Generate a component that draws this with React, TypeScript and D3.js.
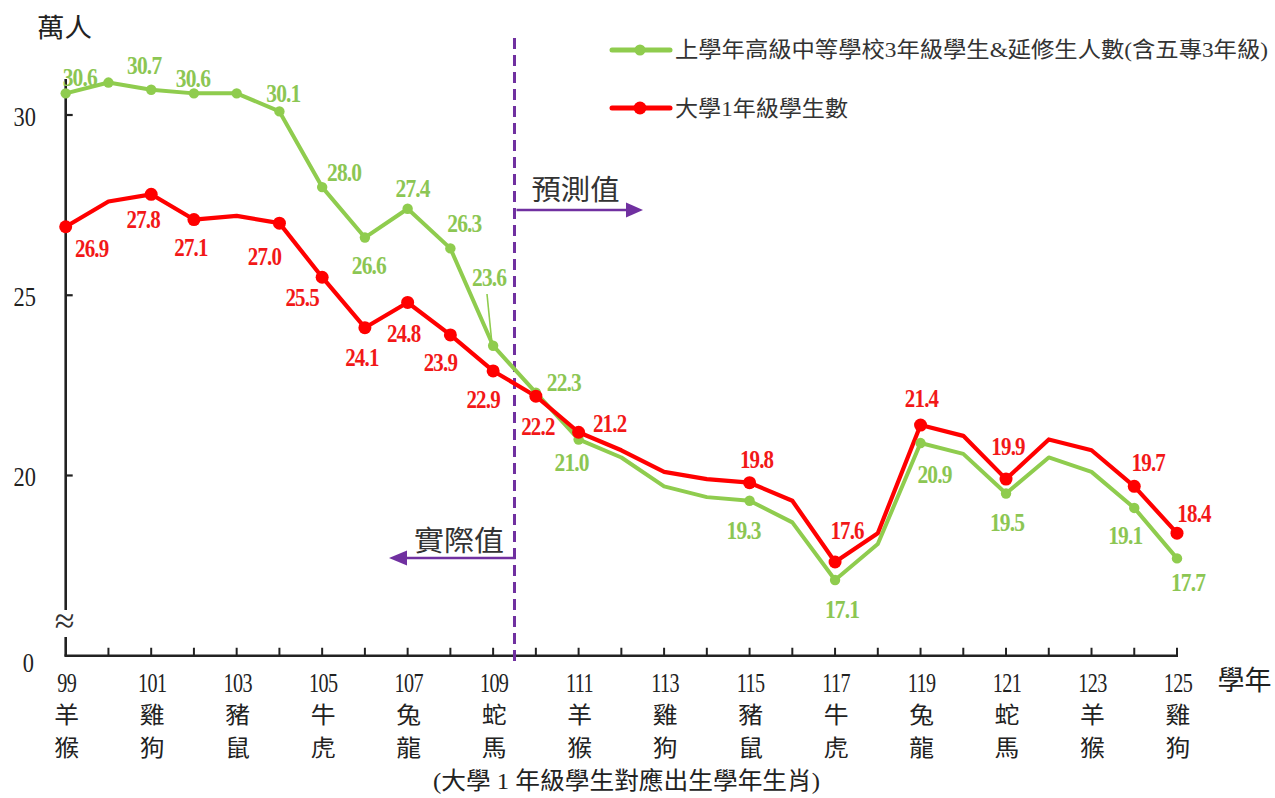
import React from "react";
import * as d3 from "d3";

// ---------- data ----------
const years = [99, 100, 101, 102, 103, 104, 105, 106, 107, 108, 109, 110, 111, 112, 113, 114, 115, 116, 117, 118, 119, 120, 121, 122, 123, 124, 125];

// 上學年高級中等學校3年級學生&延修生人數(含五專3年級) (萬人)
const highSchoolSeniors = [30.6, 30.9, 30.7, 30.6, 30.6, 30.1, 28.0, 26.6, 27.4, 26.3, 23.6, 22.3, 21.0, 20.5, 19.7, 19.4, 19.3, 18.7, 17.1, 18.1, 20.9, 20.6, 19.5, 20.5, 20.1, 19.1, 17.7];

// 大學1年級學生數 (萬人)
const freshmen = [26.9, 27.6, 27.8, 27.1, 27.2, 27.0, 25.5, 24.1, 24.8, 23.9, 22.9, 22.2, 21.2, 20.7, 20.1, 19.9, 19.8, 19.3, 17.6, 18.4, 21.4, 21.1, 19.9, 21.0, 20.7, 19.7, 18.4];

const tickYears = [99, 101, 103, 105, 107, 109, 111, 113, 115, 117, 119, 121, 123, 125];
const zodiacTop = ["羊", "雞", "豬", "牛", "兔", "蛇", "羊", "雞", "豬", "牛", "兔", "蛇", "羊", "雞"];
const zodiacBottom = ["猴", "狗", "鼠", "虎", "龍", "馬", "猴", "狗", "鼠", "虎", "龍", "馬", "猴", "狗"];
const yTicks = [20, 25, 30];

const greenMarkedYears = [99, 100, 101, 102, 103, 104, 105, 106, 107, 108, 109, 110, 111, 115, 117, 119, 121, 124, 125];
const redMarkedYears = [99, 101, 102, 104, 105, 106, 107, 108, 109, 110, 111, 115, 117, 119, 121, 124, 125];

const legendGreen = "上學年高級中等學校3年級學生&延修生人數(含五專3年級)";
const legendRed = "大學1年級學生數";
const forecastYear = 109.5;

// ---------- label placement (layout only: offset of label centre from its point) ----------
const greenLabelPlacement: [number, number, number][] = [
  [99, 14, -16], [101, -7, -24], [102, -1, -15], [104, 4, -18], [105, 22, -15],
  [106, 4, 28], [107, 5, -20], [108, 14, -25], [109, -4, -68], [110, 28, -10],
  [111, -7, 23], [115, -6, 30], [117, 7, 29], [119, 14, 31], [121, 1, 29],
  [124, -9, 27], [125, 11, 24],
];
const redLabelPlacement: [number, number, number][] = [
  [99, 26, 22], [101, -8, 25], [102, -3, 28], [104, -15, 33], [105, -20, 20],
  [106, -3, 30], [107, -4, 31], [108, -10, 27], [109, -10, 28], [110, 2, 30],
  [111, 31, -9], [115, 7, -23], [117, 12, -32], [119, 1, -27], [121, 2, -33],
  [124, 14, -24], [125, 17, -20],
];

const SERIF = "'Liberation Serif', 'Times New Roman', serif";
const CJK = "'Liberation Serif', 'Noto Sans CJK TC', 'Noto Sans CJK SC', sans-serif";
const GREEN = "#8fcc4e";
const GREEN_TEXT = "#8cc653";
const RED = "#ff0000";
const RED_TEXT = "#f21818";
const PURPLE = "#7030a0";
const INK = "#222";

type TProps = {
  x: number; y: number; sx?: number; size: number; fill?: string; weight?: string | number;
  family?: string; anchor?: "start" | "middle" | "end"; ls?: number; len?: number; children: React.ReactNode;
};
function T({ x, y, sx = 1, size, fill = INK, weight = "normal", family = SERIF, anchor = "middle", ls = 0, len, children }: TProps) {
  return (
    <text
      transform={`translate(${x},${y}) scale(${sx},1)`}
      textAnchor={anchor}
      dominantBaseline="central"
      fontSize={size}
      fill={fill}
      fontWeight={weight}
      fontFamily={family}
      letterSpacing={ls}
      textLength={len}
      lengthAdjust={len ? "spacingAndGlyphs" : undefined}
    >
      {children}
    </text>
  );
}

export default function App() {
  const x = d3.scaleLinear().domain([99, 125]).range([65.7, 1177]);
  const y = d3.scaleLinear().domain([20, 30]).range([475.5, 115]);
  const yBottom = y(15);
  const yTop = y(31);
  const axisX = x(99);

  const line = d3
    .line<number>()
    .x((_, i) => x(years[i]))
    .y((d) => y(d));

  const valueAt = (arr: number[], yr: number) => arr[years.indexOf(yr)];
  const xTickYears = years.slice(1);
  const xd = x(forecastYear);

  return (
    <svg
      width={1275}
      height={798}
      style={{ position: "absolute", left: 0, top: 0, background: "#fff" }}
    >
      <rect x={0} y={0} width={1275} height={798} fill="#fff" />

      {/* unit */}
      <T x={64.5} y={28} size={26} family={CJK} len={55}>萬人</T>

      {/* y axis with break */}
      <line x1={axisX} x2={axisX} y1={yTop} y2={610} stroke={INK} strokeWidth={2.6} />
      <line x1={axisX} x2={axisX} y1={637} y2={yBottom} stroke={INK} strokeWidth={2.6} />
      <T x={axisX - 1} y={621} size={36} family={SERIF} fill="#333">≈</T>
      {yTicks.map((t) => (
        <g key={t}>
          <line x1={axisX} x2={axisX + 7} y1={y(t)} y2={y(t)} stroke={INK} strokeWidth={2.2} />
          <T x={36} y={y(t) + 1} size={28} sx={0.8} anchor="end">{t}</T>
        </g>
      ))}
      <T x={34} y={662} size={28} sx={0.8} anchor="end">0</T>

      {/* x axis */}
      <line x1={axisX - 1.3} x2={x(125) + 1} y1={yBottom} y2={yBottom} stroke={INK} strokeWidth={2.6} />
      {xTickYears.map((yr) => (
        <line key={yr} x1={x(yr)} x2={x(yr)} y1={yBottom} y2={yBottom - 8} stroke={INK} strokeWidth={2} />
      ))}
      {tickYears.map((yr, i) => (
        <g key={yr}>
          <T x={x(yr) + 1} y={682} size={28} sx={0.72} ls={-0.8}>{yr}</T>
          <T x={x(yr) + 1} y={715} size={23} sx={1.08} family={CJK}>{zodiacTop[i]}</T>
          <T x={x(yr) + 1} y={748} size={23} sx={1.08} family={CJK}>{zodiacBottom[i]}</T>
        </g>
      ))}
      <T x={1244.5} y={681} size={27} family={CJK} len={54}>學年</T>
      <T x={626.5} y={781} size={24} family={CJK} len={387}>(大學 1 年級學生對應出生學年生肖)</T>

      {/* actual / forecast divider */}
      <line x1={xd} x2={xd} y1={38} y2={666} stroke={PURPLE} strokeWidth={3} strokeDasharray="11 6" />
      <T x={575.5} y={190} size={28} family={CJK} fill="#333" len={88}>預測值</T>
      <line x1={xd + 2} x2={628} y1={210} y2={210} stroke={PURPLE} strokeWidth={2.4} />
      <path d={`M643,210 L626,202.5 L626,217.5 Z`} fill={PURPLE} />
      <T x={459} y={541} size={28} family={CJK} fill="#333" len={90}>實際值</T>
      <path d={`M${xd},552 L${xd},558 L406,558`} fill="none" stroke={PURPLE} strokeWidth={2.4} />
      <path d={`M389,558 L407,550.5 L407,565.5 Z`} fill={PURPLE} />

      {/* series lines */}
      <path d={line(highSchoolSeniors) || ""} fill="none" stroke={GREEN} strokeWidth={4} strokeLinejoin="round" />
      <path d={line(freshmen) || ""} fill="none" stroke={RED} strokeWidth={4.2} strokeLinejoin="round" />

      {/* markers */}
      {greenMarkedYears.map((yr) => (
        <circle key={"g" + yr} cx={x(yr)} cy={y(valueAt(highSchoolSeniors, yr))} r={5.2} fill={GREEN} />
      ))}
      {redMarkedYears.map((yr) => (
        <circle key={"r" + yr} cx={x(yr)} cy={y(valueAt(freshmen, yr))} r={6.5} fill={RED} />
      ))}

      {/* leader for 109 green label */}
      <line x1={487} y1={294} x2={491.5} y2={339} stroke={GREEN} strokeWidth={1.6} />

      {/* data labels */}
      {greenLabelPlacement.map(([yr, dx, dy]) => (
        <T key={"gl" + yr} x={x(yr) + dx} y={y(valueAt(highSchoolSeniors, yr)) + dy} size={25} sx={0.86} ls={-1} fill={GREEN_TEXT} weight={600}>
          {valueAt(highSchoolSeniors, yr).toFixed(1)}
        </T>
      ))}
      {redLabelPlacement.map(([yr, dx, dy]) => (
        <T key={"rl" + yr} x={x(yr) + dx} y={y(valueAt(freshmen, yr)) + dy} size={25} sx={0.84} ls={-1} fill={RED_TEXT} weight="bold">
          {valueAt(freshmen, yr).toFixed(1)}
        </T>
      ))}

      {/* legend */}
      <line x1={612} x2={670} y1={50} y2={50} stroke={GREEN} strokeWidth={5} strokeLinecap="round" />
      <circle cx={640} cy={50} r={5.5} fill={GREEN} />
      <T x={675} y={49} size={22} family={CJK} anchor="start" fill="#333" len={593}>{legendGreen}</T>
      <line x1={612} x2={670} y1={108} y2={108} stroke={RED} strokeWidth={5} strokeLinecap="round" />
      <circle cx={640} cy={108} r={6.5} fill={RED} />
      <T x={675} y={108} size={22} family={CJK} anchor="start" fill="#333" len={173}>{legendRed}</T>
    </svg>
  );
}
